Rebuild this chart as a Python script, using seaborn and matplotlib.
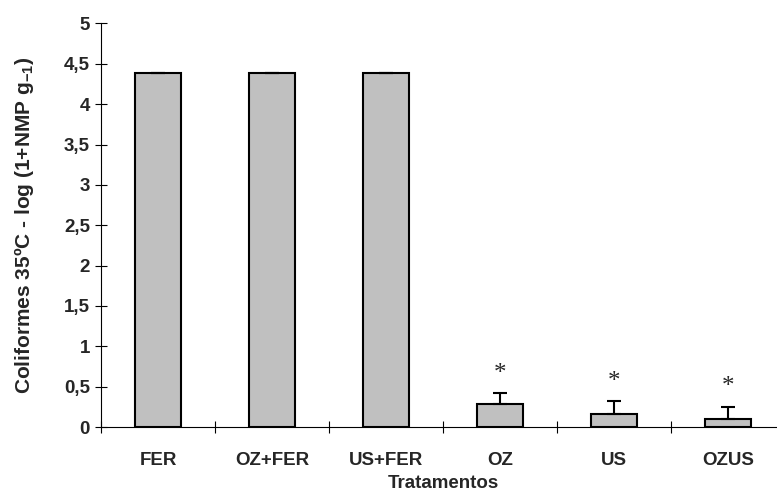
import numpy as np
import pandas as pd
import seaborn as sns
import matplotlib.pyplot as plt
from matplotlib.ticker import FuncFormatter

# valores
tratamentos = ['FER', 'OZ+FER', 'US+FER', 'OZ', 'US', 'OZUS']
medias = [4.38, 4.38, 4.38, 0.28, 0.165, 0.095]
erros = [0.005, 0.005, 0.005, 0.14, 0.16, 0.155]
asterisco = ['', '', '', '*', '*', '*']
y_asterisco = [0, 0, 0, 0.66, 0.56, 0.50]

sns.set_style('white')
plt.rcParams['font.family'] = ['Liberation Sans', 'DejaVu Sans']
plt.rcParams['mathtext.fontset'] = 'custom'
plt.rcParams['mathtext.rm'] = 'Liberation Sans'
plt.rcParams['mathtext.bf'] = 'Liberation Sans:bold'

df = pd.DataFrame({'Tratamentos': tratamentos, 'Valor': medias})

fig = plt.figure(figsize=(7.77, 4.91), dpi=100)
ax = fig.add_axes([0.130, 0.1303, 0.880, 0.822])

sns.barplot(data=df, x='Tratamentos', y='Valor', color='#C0C0C0', saturation=1,
            edgecolor='black', linewidth=1.5, width=0.4, errorbar=None, ax=ax)
ax.errorbar(np.arange(len(medias)), medias, yerr=[np.zeros(len(erros)), erros],
            fmt='none', ecolor='black', elinewidth=1.5, capsize=5, capthick=1.5, zorder=5)

for i, (s, yy) in enumerate(zip(asterisco, y_asterisco)):
    if s:
        ax.text(i, yy, s, ha='center', va='center', fontsize=18,
                family='Liberation Serif')

ax.set_xlim(-0.5, 5.5)
ax.set_ylim(0, 5)
ax.set_yticks(np.arange(0, 5.01, 0.5))
ax.yaxis.set_major_formatter(FuncFormatter(lambda v, p: ('%g' % v).replace('.', ',')))
ax.set_xticks(np.arange(-0.5, 5.6, 1), minor=True)
ax.tick_params(axis='x', which='major', bottom=True, length=0, pad=18, labelsize=13.5)
ax.tick_params(axis='x', which='minor', bottom=True, direction='inout', length=8,
               width=0.8, color='black')
ax.tick_params(axis='y', left=True, direction='inout', length=8, width=0.8,
               color='black', pad=4, labelsize=13.5)
for lab in ax.get_xticklabels() + ax.get_yticklabels():
    lab.set_fontweight('bold')

for side in ['top', 'right']:
    ax.spines[side].set_visible(False)
for side in ['left', 'bottom']:
    ax.spines[side].set_color('black')
    ax.spines[side].set_linewidth(0.8)

ax.set_xlabel('Tratamentos', fontsize=13.5, fontweight='bold', labelpad=4.5)
ax.set_ylabel(r'Coliformes 35ºC - log (1+NMP g$_{\mathbf{-1}}$)', fontsize=15,
              fontweight='bold')
ax.yaxis.set_label_coords(-0.095, 0.5)

fig.savefig('out.png', dpi=100)
